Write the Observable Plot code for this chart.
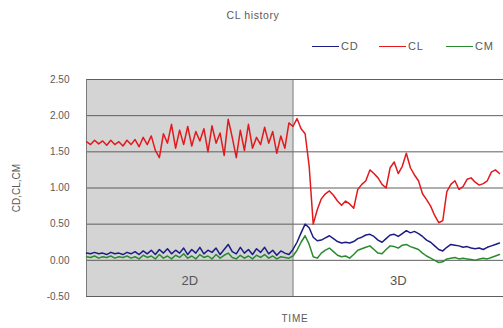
<!DOCTYPE html>
<html>
<head>
<meta charset="utf-8">
<script src="https://cdn.jsdelivr.net/npm/d3@7"></script>
<script src="https://cdn.jsdelivr.net/npm/@observablehq/plot@0.6"></script>
<style>
  html, body { margin: 0; padding: 0; background: #fff; }
  #wrap { position: relative; width: 503px; height: 328px; overflow: hidden; font-family: "Liberation Sans", Arial, sans-serif; color: #5a5a5a; }
  #title { position: absolute; top: 9px; left: 0; width: 506px; text-align: center; font-size: 10.5px; letter-spacing: 0.6px; }
  #legend { position: absolute; top: 40px; left: 312px; font-size: 11px; letter-spacing: 0.8px; white-space: nowrap; display: flex; align-items: center; }
  #legend span.sw { display: inline-block; width: 27px; height: 0; border-top: 1.5px solid; margin-right: 2px; }
  #legend span.lb { display: inline-block; width: 38px; }
  #xlabel { position: absolute; top: 313px; left: 265px; width: 60px; text-align: center; font-size: 10px; letter-spacing: 0.8px; }
  #chart { position: absolute; top: 0; left: 0; }
</style>
</head>
<body>
<div id="wrap">
  <div id="chart"></div>
  <div id="title">CL history</div>
  <div id="legend"></div>
  <div id="xlabel">TIME</div>
</div>
<script>
const seriesNames = ["CD", "CL", "CM"];
const seriesColors = ["#1c1c86", "#e3191c", "#2a8a2e"];
const yTicks = [-0.5, 0, 0.5, 1.0, 1.5, 2.0, 2.5];
const regionNames = ["2D", "3D"];
const regionStart = [0, 102];
const regionEnd = [102, 206];

const time2d = d3.range(0, 101, 2);
const time3d = d3.range(102, 206, 2);

const cl2d = [1.64,1.60,1.66,1.61,1.65,1.59,1.66,1.60,1.64,1.58,1.66,1.60,1.67,1.57,1.70,1.60,1.72,1.52,1.42,1.75,1.62,1.88,1.55,1.80,1.60,1.85,1.58,1.78,1.65,1.82,1.50,1.86,1.62,1.76,1.45,1.95,1.70,1.42,1.80,1.52,1.88,1.55,1.70,1.60,1.84,1.62,1.78,1.48,1.72,1.55,1.90];
const cd2d = [0.10,0.09,0.11,0.09,0.10,0.08,0.11,0.09,0.10,0.08,0.11,0.09,0.12,0.08,0.13,0.09,0.14,0.08,0.15,0.10,0.16,0.09,0.14,0.10,0.17,0.08,0.15,0.10,0.18,0.09,0.14,0.11,0.17,0.08,0.15,0.22,0.12,0.09,0.18,0.10,0.15,0.08,0.16,0.11,0.18,0.09,0.14,0.07,0.13,0.10,0.08];
const cm2d = [0.05,0.04,0.06,0.03,0.05,0.04,0.06,0.03,0.05,0.04,0.06,0.03,0.05,0.02,0.07,0.04,0.06,0.02,0.08,0.03,0.06,0.02,0.07,0.04,0.09,0.03,0.06,0.02,0.08,0.04,0.06,0.02,0.08,0.03,0.07,0.10,0.04,0.02,0.07,0.03,0.06,0.02,0.07,0.04,0.08,0.03,0.06,0.02,0.05,0.04,0.03];

const cl3d = [1.85,1.96,1.82,1.75,1.30,0.50,0.70,0.85,0.92,0.96,0.90,0.82,0.76,0.82,0.78,0.72,0.98,1.05,1.10,1.25,1.20,1.14,1.05,1.00,1.28,1.36,1.20,1.30,1.48,1.28,1.18,1.10,0.92,0.84,0.75,0.62,0.52,0.55,0.95,1.05,1.10,0.98,1.02,1.12,1.14,1.08,1.04,1.06,1.10,1.22,1.25,1.20];
const cd3d = [0.15,0.25,0.38,0.50,0.45,0.32,0.27,0.28,0.31,0.34,0.30,0.26,0.24,0.25,0.24,0.26,0.30,0.32,0.35,0.36,0.33,0.28,0.25,0.30,0.35,0.36,0.33,0.37,0.41,0.38,0.40,0.37,0.33,0.28,0.25,0.20,0.15,0.13,0.18,0.22,0.21,0.20,0.18,0.19,0.17,0.16,0.17,0.15,0.18,0.20,0.22,0.24];
const cm3d = [0.06,0.14,0.25,0.34,0.22,0.05,0.03,0.10,0.14,0.17,0.12,0.07,0.05,0.06,0.03,0.08,0.14,0.16,0.18,0.20,0.15,0.10,0.09,0.15,0.20,0.19,0.17,0.21,0.22,0.19,0.17,0.15,0.10,0.06,0.03,0.00,-0.03,-0.02,0.02,0.03,0.04,0.02,0.03,0.02,0.01,0.00,0.02,0.03,0.02,0.04,0.06,0.08];

const seriesData = {
  CD: [cd2d, cd3d],
  CL: [cl2d, cl3d],
  CM: [cm2d, cm3d]
};
const rows = [];
for (const name of seriesNames) {
  const [a, b] = seriesData[name];
  a.forEach((v, i) => rows.push({series: name, t: time2d[i], v}));
  b.forEach((v, i) => rows.push({series: name, t: time3d[i], v}));
}
const regions = regionNames.map((n, i) => ({name: n, x1: regionStart[i], x2: regionEnd[i], mid: (regionStart[i] + regionEnd[i]) / 2}));

const chart = Plot.plot({
  width: 503,
  height: 328,
  marginTop: 79,
  marginBottom: 32,
  marginLeft: 86,
  marginRight: 0,
  style: {fontFamily: "Liberation Sans, Arial, sans-serif", fontSize: "10px", color: "#5a5a5a", background: "transparent"},
  x: {domain: [0, 206], axis: null},
  y: {domain: [-0.5, 2.5]},
  color: {domain: seriesNames, range: seriesColors},
  marks: [
    Plot.rect(regions.slice(0, 1), {x1: "x1", x2: "x2", fill: "#d4d4d4"}),
    Plot.gridY(yTicks, {stroke: "#5e5e5e", strokeOpacity: 1, strokeWidth: 1}),
    Plot.ruleX([regionStart[1]], {stroke: "#6e6e6e", strokeWidth: 1}),
    Plot.ruleX([0], {stroke: "#7a7a7a", strokeWidth: 1}),
    Plot.axisY(yTicks, {tickSize: 0, tickPadding: 17, tickFormat: d => d.toFixed(2), fill: "#5a5a5a", letterSpacing: "0.6px", label: "CD,CL,CM", labelAnchor: "center", labelArrow: "none", labelOffset: 74}),
    Plot.line(rows, {x: "t", y: "v", z: "series", stroke: "series", strokeWidth: 1.5, strokeLinejoin: "round"}),
    Plot.text(regions, {x: "mid", text: "name", frameAnchor: "bottom", dy: -12, fontSize: 13, fill: "#555"})
  ]
});
document.getElementById("chart").appendChild(chart);

const legend = document.getElementById("legend");
seriesNames.forEach((n, i) => {
  const sw = document.createElement("span");
  sw.className = "sw";
  sw.style.borderTopColor = seriesColors[i];
  const lb = document.createElement("span");
  lb.className = "lb";
  lb.textContent = n;
  legend.appendChild(sw);
  legend.appendChild(lb);
});
</script>
</body>
</html>
